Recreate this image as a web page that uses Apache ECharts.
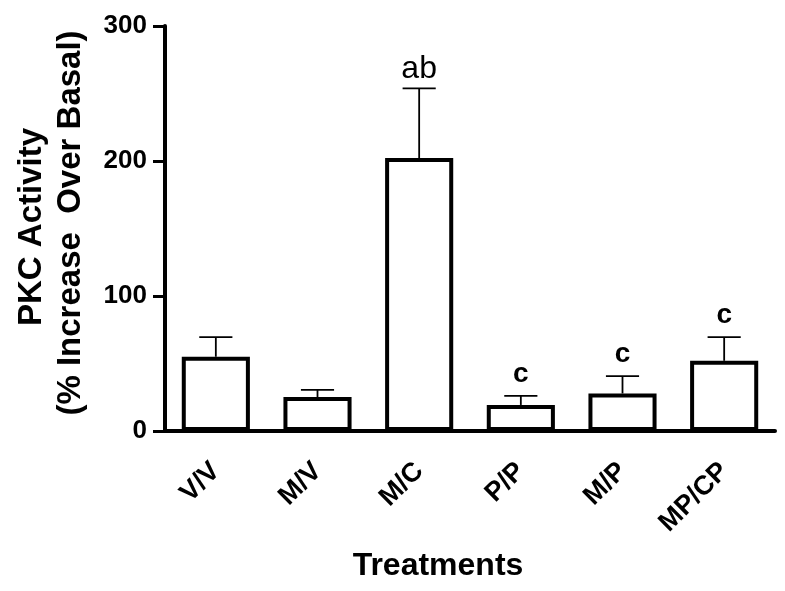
<!DOCTYPE html>
<html>
<head>
<meta charset="utf-8">
<script src="https://cdn.jsdelivr.net/npm/echarts@6/dist/echarts.min.js"></script>
<style>
html,body{margin:0;padding:0;background:#fff;}
#chart{width:785px;height:591px;}
</style>
</head>
<body>
<div id="chart"></div>
<script>
const categories = ['V/V', 'M/V', 'M/C', 'P/P', 'M/P', 'MP/CP'];
const means = [55, 25.2, 202.2, 19.3, 27.8, 52];
const sems = [14.5, 5.2, 51.6, 6.7, 12.9, 17.6];
const letters = ['', '', 'ab', 'c', 'c', 'c'];
const yMin = 0, yMax = 300, yInterval = 100;
const yTitleLine1 = 'PKC Activity';
const yTitleLine2 = '(% Increase  Over Basal)';
const xTitle = 'Treatments';

const FONT = '"Liberation Sans", Arial, sans-serif';
const chart = echarts.init(document.getElementById('chart'), null, {renderer: 'canvas'});

const errData = categories.map((c, i) => [i, means[i], sems[i]]);

const option = {
  backgroundColor: '#fff',
  animation: false,
  grid: {left: 165, right: 10, top: 26, bottom: 160, containLabel: false},
  xAxis: {
    type: 'category',
    data: categories,
    axisLine: {lineStyle: {color: '#000', width: 4}},
    axisTick: {alignWithLabel: true, length: 12, lineStyle: {color: '#000', width: 3}},
    axisLabel: {rotate: 45, margin: 36, color: '#000', fontFamily: FONT, fontWeight: 'bold', fontSize: 27, interval: 0},
    splitLine: {show: false}
  },
  yAxis: {
    type: 'value',
    min: yMin, max: yMax, interval: yInterval,
    axisLine: {show: true, lineStyle: {color: '#000', width: 4}},
    axisTick: {show: true, length: 12, lineStyle: {color: '#000', width: 3}},
    axisLabel: {margin: 18, color: '#000', fontFamily: FONT, fontWeight: 'bold', fontSize: 26},
    splitLine: {show: false}
  },
  graphic: [
    {type: 'text', x: 32, y: 227, rotation: Math.PI / 2,
     style: {text: yTitleLine1, fill: '#000', font: 'bold 33px ' + FONT, align: 'center', verticalAlign: 'middle'}},
    {type: 'text', x: 71, y: 223, rotation: Math.PI / 2,
     style: {text: yTitleLine2, fill: '#000', font: 'bold 33px ' + FONT, align: 'center', verticalAlign: 'middle'}},
    {type: 'text', x: 438, y: 566,
     style: {text: xTitle, fill: '#000', font: 'bold 32px ' + FONT, align: 'center', verticalAlign: 'middle'}}
  ],
  series: [
    {
      type: 'bar',
      data: means,
      barWidth: '67%',
      itemStyle: {color: '#fff', borderColor: '#000', borderWidth: 4},
      z: 2
    },
    {
      type: 'custom',
      data: errData,
      z: 3,
      renderItem: function (params, api) {
        const i = api.value(0);
        const m = api.value(1);
        const e = api.value(2);
        const base = api.coord([i, m]);
        const top = api.coord([i, m + e]);
        const bw = api.size([1, 0])[0];
        const half = bw * 0.163;
        const children = [
          {type: 'line', shape: {x1: base[0], y1: base[1], x2: top[0], y2: top[1]}, style: {stroke: '#000', lineWidth: 1.8}},
          {type: 'line', shape: {x1: top[0] - half, y1: top[1], x2: top[0] + half, y2: top[1]}, style: {stroke: '#000', lineWidth: 1.8}}
        ];
        const L = letters[params.dataIndex];
        if (L) {
          const isAb = L.length > 1;
          children.push({
            type: 'text',
            x: top[0], y: top[1] - (isAb ? 19 : 22),
            style: {text: L, fill: '#000', font: (isAb ? 'normal 32px ' : 'bold 28px ') + FONT, align: 'center', verticalAlign: 'middle'}
          });
        }
        return {type: 'group', children: children};
      }
    }
  ]
};
chart.setOption(option);
</script>
</body>
</html>
